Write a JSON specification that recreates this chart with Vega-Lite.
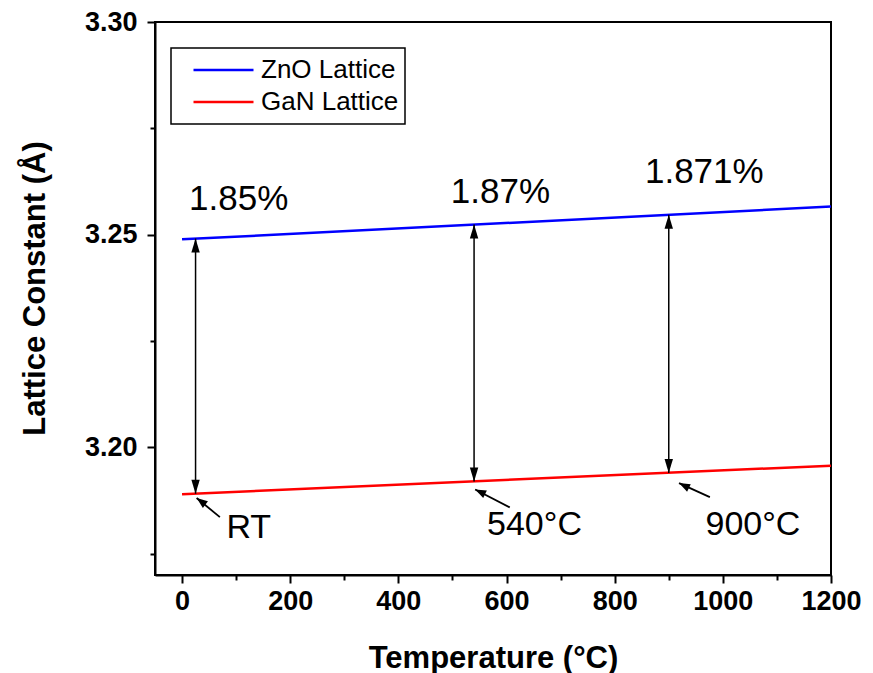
{
  "$schema": "https://vega.github.io/schema/vega-lite/v6.json",
  "width": 676,
  "height": 553,
  "autosize": {"type": "none"},
  "padding": {"left": 155, "top": 22, "right": 42, "bottom": 98},
  "background": "white",
  "datasets": {
    "lines": [
      {"series": "ZnO Lattice", "temperature": 0, "value": 3.2489},
      {"series": "ZnO Lattice", "temperature": 1200, "value": 3.2566},
      {"series": "GaN Lattice", "temperature": 0, "value": 3.1890},
      {"series": "GaN Lattice", "temperature": 1200, "value": 3.1957}
    ],
    "spans": [
      {"temperature": 25, "gan": 3.1891, "zno": 3.2491},
      {"temperature": 540, "gan": 3.1920, "zno": 3.2524},
      {"temperature": 900, "gan": 3.1940, "zno": 3.2547}
    ],
    "callouts": [
      {"label": "RT", "tipT": 27, "tipV": 3.1881, "tailT": 70, "tailV": 3.1836, "textT": 82, "textV": 3.1787},
      {"label": "540°C", "tipT": 542, "tipV": 3.1901, "tailT": 606, "tailV": 3.1859, "textT": 564, "textV": 3.1794},
      {"label": "900°C", "tipT": 919, "tipV": 3.1916, "tailT": 976, "tailV": 3.1883, "textT": 968, "textV": 3.1794}
    ],
    "percents": [
      {"label": "1.85%", "temperature": 13, "value": 3.2557},
      {"label": "1.87%", "temperature": 497, "value": 3.2575},
      {"label": "1.871%", "temperature": 856, "value": 3.2622}
    ]
  },
  "layer": [
    {
      "data": {"name": "lines"},
      "mark": {"type": "line", "strokeWidth": 2.5, "clip": true},
      "encoding": {
        "x": {
          "field": "temperature", "type": "quantitative",
          "scale": {"domain": [-50, 1200], "nice": false, "zero": false},
          "axis": {
            "title": "Temperature (°C)",
            "values": [0, 100, 200, 300, 400, 500, 600, 700, 800, 900, 1000, 1100, 1200],
            "labelExpr": "datum.value % 200 === 0 ? format(datum.value, 'd') : ''",
            "tickSize": {"condition": {"test": "datum.value % 200 === 0", "value": 8}, "value": 5},
            "labelPadding": 5,
            "labelFlush": false,
            "titleY": 92,
            "titleBaseline": "alphabetic"
          }
        },
        "y": {
          "field": "value", "type": "quantitative",
          "scale": {"domain": [3.17, 3.30], "nice": false, "zero": false},
          "axis": {
            "title": "Lattice Constant (Å)",
            "values": [3.175, 3.2, 3.225, 3.25, 3.275, 3.3],
            "labelExpr": "abs(datum.value * 20 - round(datum.value * 20)) < 0.001 ? format(datum.value, '.2f') : ''",
            "tickSize": {"condition": {"test": "abs(datum.value * 20 - round(datum.value * 20)) < 0.001", "value": 8}, "value": 5},
            "labelPadding": 10,
            "labelFlush": false,
            "titleX": -111,
            "titleY": 266,
            "titleBaseline": "alphabetic"
          }
        },
        "color": {
          "field": "series", "type": "nominal",
          "scale": {"domain": ["ZnO Lattice", "GaN Lattice"], "range": ["#0000ff", "#ff0000"]},
          "legend": {
            "orient": "none",
            "legendX": 16,
            "legendY": 26,
            "title": null,
            "symbolType": "stroke",
            "symbolSize": 3600,
            "symbolStrokeWidth": 2.5,
            "clipHeight": 32,
            "rowPadding": 0,
            "padding": 6,
            "symbolOffset": 15,
            "labelOffset": 6,
            "labelFontSize": 26,
            "labelFont": "Liberation Sans",
            "labelColor": "black",
            "labelLimit": 400,
            "strokeColor": "black"
          }
        }
      }
    },
    {
      "data": {"name": "spans"},
      "mark": {"type": "rule", "color": "black", "strokeWidth": 1.5},
      "encoding": {
        "x": {"field": "temperature", "type": "quantitative"},
        "y": {"field": "gan", "type": "quantitative"},
        "y2": {"field": "zno"}
      }
    },
    {
      "data": {"name": "spans"},
      "mark": {"type": "point", "shape": "M0,0L-0.3,1L0.3,1Z", "filled": true, "color": "black", "opacity": 1, "size": 784, "angle": 0},
      "encoding": {
        "x": {"field": "temperature", "type": "quantitative"},
        "y": {"field": "zno", "type": "quantitative"}
      }
    },
    {
      "data": {"name": "spans"},
      "mark": {"type": "point", "shape": "M0,0L-0.3,1L0.3,1Z", "filled": true, "color": "black", "opacity": 1, "size": 784, "angle": 180},
      "encoding": {
        "x": {"field": "temperature", "type": "quantitative"},
        "y": {"field": "gan", "type": "quantitative"}
      }
    },
    {
      "data": {"name": "callouts"},
      "mark": {"type": "rule", "color": "black", "strokeWidth": 1.8},
      "encoding": {
        "x": {"field": "tailT", "type": "quantitative"},
        "y": {"field": "tailV", "type": "quantitative"},
        "x2": {"field": "tipT"},
        "y2": {"field": "tipV"}
      }
    },
    {
      "data": {"name": "callouts"},
      "transform": [{"filter": "datum.label === 'RT'"}],
      "mark": {"type": "point", "shape": "M0,0L-0.38,1L0.38,1Z", "filled": true, "color": "black", "opacity": 1, "size": 484, "angle": -53},
      "encoding": {
        "x": {"field": "tipT", "type": "quantitative"},
        "y": {"field": "tipV", "type": "quantitative"}
      }
    },
    {
      "data": {"name": "callouts"},
      "transform": [{"filter": "datum.label !== 'RT'"}],
      "mark": {"type": "point", "shape": "M0,0L-0.38,1L0.38,1Z", "filled": true, "color": "black", "opacity": 1, "size": 484, "angle": -64},
      "encoding": {
        "x": {"field": "tipT", "type": "quantitative"},
        "y": {"field": "tipV", "type": "quantitative"}
      }
    },
    {
      "data": {"name": "callouts"},
      "mark": {"type": "text", "align": "left", "baseline": "alphabetic", "font": "Liberation Sans", "fontSize": 34, "color": "black"},
      "encoding": {
        "x": {"field": "textT", "type": "quantitative"},
        "y": {"field": "textV", "type": "quantitative"},
        "text": {"field": "label"}
      }
    },
    {
      "data": {"name": "percents"},
      "mark": {"type": "text", "align": "left", "baseline": "alphabetic", "font": "Liberation Sans", "fontSize": 35, "color": "black"},
      "encoding": {
        "x": {"field": "temperature", "type": "quantitative"},
        "y": {"field": "value", "type": "quantitative"},
        "text": {"field": "label"}
      }
    }
  ],
  "config": {
    "view": {"stroke": "black", "strokeWidth": 2},
    "axis": {
      "grid": false,
      "domainColor": "black",
      "domainWidth": 2,
      "tickColor": "black",
      "tickWidth": 2,
      "labelFont": "Liberation Sans",
      "labelFontSize": 27,
      "labelFontWeight": "bold",
      "labelColor": "black",
      "titleFont": "Liberation Sans",
      "titleFontSize": 31,
      "titleFontWeight": "bold",
      "titleColor": "black"
    },
    "legend": {"strokeWidth": 1.5}
  }
}
